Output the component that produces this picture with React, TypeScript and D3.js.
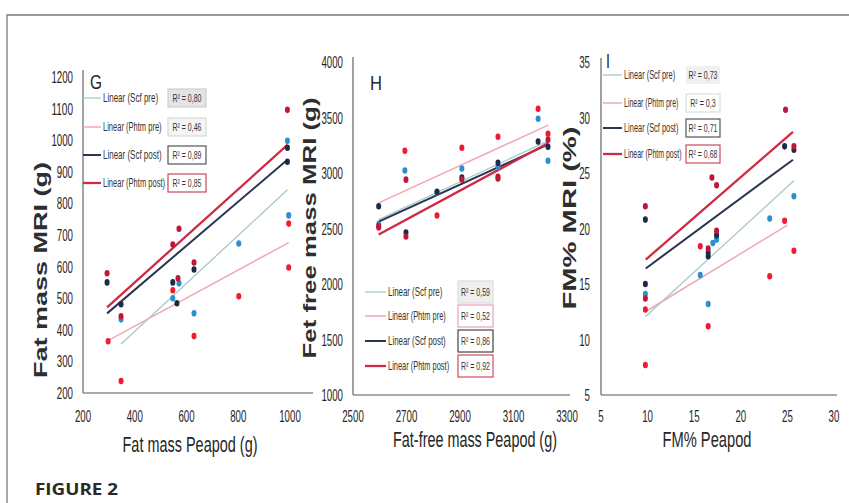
import React from "react";
import * as d3 from "d3";

type Pt = [number, number];

// ---------- DATA ----------
const legendLabels = ["Linear (Scf pre)", "Linear (Phtm pre)", "Linear (Scf post)", "Linear (Phtm post)"];

const gXTicks = [200, 400, 600, 800, 1000];
const gYTicks = [200, 300, 400, 500, 600, 700, 800, 900, 1000, 1100, 1200];
const hXTicks = [2500, 2700, 2900, 3100, 3300];
const hYTicks = [1000, 1500, 2000, 2500, 3000, 3500, 4000];
const iXTicks = [5, 10, 15, 20, 25, 30];
const iYTicks = [5, 10, 15, 20, 25, 30, 35];

const gScfPre: Pt[] = [[347, 433], [547, 500], [571, 547], [629, 452], [802, 673], [995, 762], [990, 998]];
const gPhtmPre: Pt[] = [[297, 364], [347, 238], [547, 525], [629, 380], [802, 506], [995, 597], [995, 736]];
const gScfPost: Pt[] = [[293, 550], [347, 481], [547, 550], [563, 484], [629, 591], [990, 976], [990, 932]];
const gPhtmPost: Pt[] = [[293, 579], [347, 443], [547, 670], [571, 720], [567, 563], [629, 613], [990, 1096]];
const gTrendScfPre: Pt[] = [[347, 355], [990, 843]];
const gTrendPhtmPre: Pt[] = [[293, 364], [995, 676]];
const gTrendScfPost: Pt[] = [[293, 452], [990, 938]];
const gTrendPhtmPost: Pt[] = [[293, 471], [990, 985]];
const gR2 = ["R² = 0,80", "R² = 0,46", "R² = 0,89", "R² = 0,85"];

const hScfPre: Pt[] = [[2596, 2536], [2694, 3022], [2814, 2824], [2907, 3040], [3042, 3057], [3192, 3489], [3229, 3111]];
const hPhtmPre: Pt[] = [[2596, 2509], [2694, 3201], [2814, 2617], [2907, 3228], [3042, 3327], [3192, 3579], [3229, 3354]];
const hScfPost: Pt[] = [[2596, 2701], [2698, 2464], [2814, 2830], [2907, 2960], [3042, 3093], [3192, 3283], [3229, 3237]];
const hPhtmPost: Pt[] = [[2596, 2520], [2698, 2940], [2698, 2428], [2907, 2941], [3042, 2950], [3229, 3300], [3042, 2965]];
const hTrendScfPre: Pt[] = [[2596, 2580], [3230, 3290]];
const hTrendPhtmPre: Pt[] = [[2596, 2731], [3230, 3431]];
const hTrendScfPost: Pt[] = [[2592, 2557], [3228, 3255]];
const hTrendPhtmPost: Pt[] = [[2596, 2446], [3230, 3270]];
const hR2 = ["R² = 0,59", "R² = 0,52", "R² = 0,86", "R² = 0,92"];

const iScfPre: Pt[] = [[9.76, 14.1], [15.65, 15.8], [16.5, 13.2], [17.0, 18.7], [17.4, 19.0], [23.1, 20.9], [25.7, 22.9]];
const iPhtmPre: Pt[] = [[9.76, 12.7], [9.76, 7.7], [16.5, 11.2], [15.65, 18.4], [23.1, 15.7], [25.7, 18.0], [24.7, 20.7]];
const iScfPost: Pt[] = [[9.76, 20.8], [9.76, 15.0], [16.5, 17.5], [16.5, 17.8], [17.4, 19.4], [24.7, 27.4], [25.7, 27.1]];
const iPhtmPost: Pt[] = [[9.76, 22.0], [9.76, 13.7], [16.9, 24.6], [17.4, 23.9], [17.4, 19.8], [16.5, 18.2], [24.8, 30.7], [25.7, 27.4]];
const iTrendScfPre: Pt[] = [[9.76, 12.05], [25.7, 24.3]];
const iTrendPhtmPre: Pt[] = [[9.76, 12.5], [25.0, 20.3]];
const iTrendScfPost: Pt[] = [[9.8, 16.4], [25.6, 26.2]];
const iTrendPhtmPost: Pt[] = [[9.8, 17.2], [25.6, 28.7]];
const iR2 = ["R² = 0,73", "R² = 0,3", "R² = 0,71", "R² = 0,68"];

// ---------- STYLE ----------
const dotColors = ["#2f8fce", "#ee1c2e", "#1d2a48", "#c0163a"];
const lineColors = ["#a3cbc8", "#f2a7b5", "#2a3550", "#cf2a43"];
const lineWidths = [1.3, 1.5, 2, 2.3];
const FONT = "'Liberation Sans', Arial, sans-serif";
const TXT = "#262626";

let ctx: CanvasRenderingContext2D | null = null;
function measure(text: string, size: number, weight: string, family: string): number {
  if (!ctx) ctx = document.createElement("canvas").getContext("2d");
  if (!ctx) return text.length * size * 0.55;
  ctx.font = `${weight} ${size}px ${family}`;
  return ctx.measureText(text).width || text.length * size * 0.55;
}

interface FTProps {
  x: number; y: number; text: string; target: number; size: number;
  weight?: string; anchor?: "start" | "middle" | "end"; rotate?: number; fill?: string; family?: string;
}
function FitText({ x, y, text, target, size, weight = "normal", anchor = "start", rotate = 0, fill = TXT, family = FONT }: FTProps) {
  const nat = measure(text, size, weight, family);
  const sx = target / nat;
  return (
    <text transform={`translate(${x},${y}) rotate(${rotate}) scale(${sx},1)`} textAnchor={anchor}
      fontFamily={family} fontWeight={weight} fontSize={size} fill={fill}>{text}</text>
  );
}

interface PanelCfg {
  letter: string;
  xDomain: [number, number]; xRange: [number, number];
  yDomain: [number, number]; yRange: [number, number];
  xTicks: number[]; yTicks: number[];
  xAxisEnd: number; yAxisTop: number; yTickRight: number; xTickY: number;
  yTitle: string; yTitleX: number; yTitleCY: number; yTitleLen: number;
  xTitle: string; xTitleCX: number; xTitleY: number; xTitleLen: number;
  letterX: number; letterY: number;
  series: Pt[][]; trends: Pt[][]; r2: string[];
  legRows: number[]; legLine: [number, number]; legTextX: number; legCharW: number;
  boxX: number; boxW: number; boxH: number;
  boxStyles: { fill: string; stroke: string }[];
}

const panels: PanelCfg[] = [
  {
    letter: "G", xDomain: [200, 1000], xRange: [83, 290], yDomain: [200, 1200], yRange: [393, 77],
    xTicks: gXTicks, yTicks: gYTicks, xAxisEnd: 313, yAxisTop: 70, yTickRight: 73, xTickY: 422,
    yTitle: "Fat mass MRI (g)", yTitleX: 47, yTitleCY: 270, yTitleLen: 216,
    xTitle: "Fat mass Peapod (g)", xTitleCX: 190, xTitleY: 452, xTitleLen: 135,
    letterX: 90, letterY: 89,
    series: [gScfPre, gPhtmPre, gScfPost, gPhtmPost],
    trends: [gTrendScfPre, gTrendPhtmPre, gTrendScfPost, gTrendPhtmPost], r2: gR2,
    legRows: [98, 127, 155, 183], legLine: [83, 101], legTextX: 103, legCharW: 3.45, boxX: 168, boxW: 38, boxH: 18,
    boxStyles: [
      { fill: "#e4e4e4", stroke: "#cfcfcf" }, { fill: "#f5f5f5", stroke: "#d8d8d8" },
      { fill: "#ffffff", stroke: "#555555" }, { fill: "#ffffff", stroke: "#c9485a" },
    ],
  },
  {
    letter: "H", xDomain: [2500, 3300], xRange: [353, 567], yDomain: [1000, 4000], yRange: [395, 62],
    xTicks: hXTicks, yTicks: hYTicks, xAxisEnd: 570, yAxisTop: 57, yTickRight: 343, xTickY: 422,
    yTitle: "Fet free mass MRI (g)", yTitleX: 316, yTitleCY: 228, yTitleLen: 261,
    xTitle: "Fat-free mass Peapod (g)", xTitleCX: 475, xTitleY: 447, xTitleLen: 164,
    letterX: 370, letterY: 90,
    series: [hScfPre, hPhtmPre, hScfPost, hPhtmPost],
    trends: [hTrendScfPre, hTrendPhtmPre, hTrendScfPost, hTrendPhtmPost], r2: hR2,
    legRows: [292, 316, 341, 366], legLine: [365, 386], legTextX: 388, legCharW: 3.4, boxX: 458, boxW: 35, boxH: 22,
    boxStyles: [
      { fill: "#eeeeee", stroke: "#dcdcdc" }, { fill: "#ffffff", stroke: "#e7a3b3" },
      { fill: "#ffffff", stroke: "#444444" }, { fill: "#ffffff", stroke: "#d24a66" },
    ],
  },
  {
    letter: "I", xDomain: [5, 30], xRange: [601, 834], yDomain: [5, 35], yRange: [395, 62],
    xTicks: iXTicks, yTicks: iYTicks, xAxisEnd: 837, yAxisTop: 58, yTickRight: 590, xTickY: 422,
    yTitle: "FM% MRI (%)", yTitleX: 576, yTitleCY: 218, yTitleLen: 183,
    xTitle: "FM% Peapod", xTitleCX: 707, xTitleY: 447, xTitleLen: 89,
    letterX: 606, letterY: 68,
    series: [iScfPre, iPhtmPre, iScfPost, iPhtmPost],
    trends: [iTrendScfPre, iTrendPhtmPre, iTrendScfPost, iTrendPhtmPost], r2: iR2,
    legRows: [75, 103, 128, 154], legLine: [603, 622], legTextX: 624, legCharW: 3.2, boxX: 686, boxW: 34, boxH: 18,
    boxStyles: [
      { fill: "#f0f0f0", stroke: "none" }, { fill: "#ffffff", stroke: "#dddddd" },
      { fill: "#ffffff", stroke: "#555555" }, { fill: "#ffffff", stroke: "#cc4b5c" },
    ],
  },
];

function Panel({ p }: { p: PanelCfg }) {
  const x = d3.scaleLinear().domain(p.xDomain).range(p.xRange);
  const y = d3.scaleLinear().domain(p.yDomain).range(p.yRange);
  const line = d3.line<Pt>().x((d) => x(d[0])).y((d) => y(d[1]));
  const x0 = p.xRange[0];
  const y0 = p.yRange[0];
  return (
    <g>
      <line x1={x0} x2={x0} y1={p.yAxisTop} y2={y0} stroke="#8c8c8c" strokeWidth={1.6} />
      <line x1={x0} x2={p.xAxisEnd} y1={y0} y2={y0} stroke="#8c8c8c" strokeWidth={1.6} />
      {p.yTicks.map((t) => {
        const s = String(t);
        return <FitText key={"y" + t} x={p.yTickRight} y={y(t) + 6} text={s} target={s.length * 5.4} size={17} anchor="end" />;
      })}
      {p.xTicks.map((t) => {
        const s = String(t);
        return <FitText key={"x" + t} x={x(t)} y={p.xTickY} text={s} target={s.length * 5.4} size={17} anchor="middle" />;
      })}
      <FitText x={p.yTitleX} y={p.yTitleCY} text={p.yTitle} target={p.yTitleLen} size={19} weight="bold"
        anchor="middle" rotate={-90} fill="#2e2e2e" />
      <FitText x={p.xTitleCX} y={p.xTitleY} text={p.xTitle} target={p.xTitleLen} size={22} anchor="middle" />
      <FitText x={p.letterX} y={p.letterY} text={p.letter} target={p.letter === "I" ? 4 : 12} size={20} />
      {p.trends.map((tr, i) => (
        <path key={"t" + i} d={line(tr) || ""} fill="none" stroke={lineColors[i]} strokeWidth={lineWidths[i]} />
      ))}
      {p.series.map((ser, i) =>
        ser.map((d, j) => (
          <ellipse key={"p" + i + "-" + j} cx={x(d[0])} cy={y(d[1])} rx={2.5} ry={3.3} fill={dotColors[i]} />
        ))
      )}
      {legendLabels.map((lab, i) => {
        const cy = p.legRows[i];
        const bs = p.boxStyles[i];
        return (
          <g key={"l" + i}>
            <line x1={p.legLine[0]} x2={p.legLine[1]} y1={cy} y2={cy} stroke={lineColors[i]} strokeWidth={lineWidths[i]} />
            <FitText x={p.legTextX} y={cy + 4} text={lab} target={lab.length * p.legCharW} size={12} fill="#333" />
            <rect x={p.boxX} y={cy - p.boxH / 2} width={p.boxW} height={p.boxH} fill={bs.fill}
              stroke={bs.stroke} strokeWidth={1.2} />
            <FitText x={p.boxX + p.boxW / 2} y={cy + 4} text={p.r2[i]} target={p.r2[i].length * 3.2} size={11.5}
              anchor="middle" fill="#333" />
          </g>
        );
      })}
    </g>
  );
}

export default function App() {
  return (
    <svg width={849} height={503} style={{ position: "absolute", left: 0, top: 0, display: "block", background: "#fff" }}>
      <rect x={0} y={0} width={849} height={503} fill="#ffffff" />
      <path d="M7,503 L7,15 L849,15" fill="none" stroke="#7a7a7a" strokeWidth={1.3} />
      {panels.map((p) => (
        <Panel key={p.letter} p={p} />
      ))}
      <FitText x={35} y={495} text="FIGURE 2" target={83} size={16.5} weight="bold" fill="#2a2a2a"
        family="'Open Sans', 'Liberation Sans', sans-serif" />
    </svg>
  );
}
